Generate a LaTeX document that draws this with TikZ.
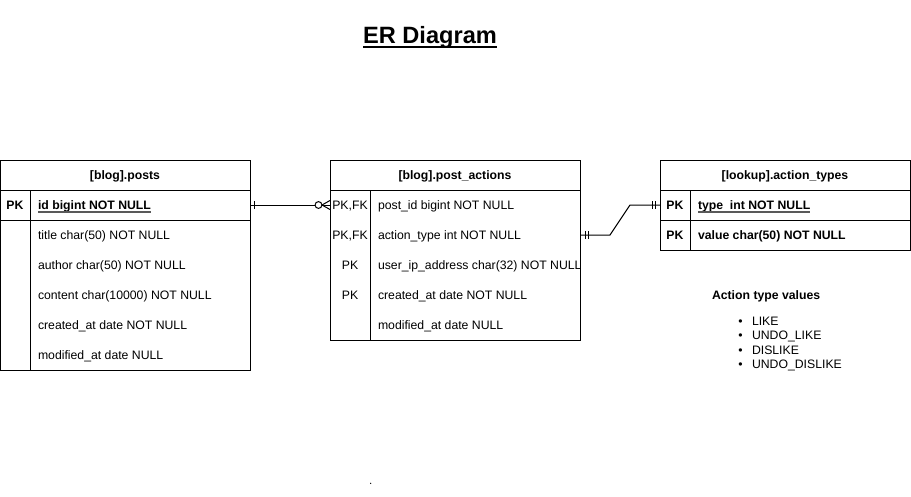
\documentclass[tikz,border=0pt]{standalone}
\usepackage{fontspec}
\setmainfont{Liberation Sans}
\usetikzlibrary{calc}
\begin{document}
\begin{tikzpicture}[x=1pt,y=-1pt,line width=1pt,
  every node/.style={inner sep=0pt,outer sep=0pt},
  txt/.style={font=\fontsize{12.25}{14}\selectfont},
  fld/.style={txt,anchor=base west},
  bfld/.style={txt,anchor=base west,font=\fontsize{12.25}{14}\selectfont\bfseries},
  keycol/.style={txt,anchor=base},
  bkey/.style={txt,anchor=base,font=\fontsize{12.25}{14}\selectfont\bfseries},
  hdr/.style={anchor=base,font=\fontsize{12.25}{14}\selectfont\bfseries},
  uline/.style={line width=1.3pt,black!65},
  rel/.style={line width=1pt}]
\useasboundingbox (0,0) rectangle (911,496);

% title
\node[anchor=base,font=\fontsize{23.6}{28}\selectfont\bfseries] (title) at (430,43) {ER Diagram};
\draw[line width=1.8pt] ($(title.base west)+(0,4)$) -- ($(title.base east)+(0,4)$);

% ---------- [blog].posts ----------
\draw (0.5,160) rectangle (250,370);
\draw (0.5,190) -- (250,190);
\draw (0.5,220) -- (250,220);
\draw (30,190) -- (30,370);
\node[hdr] (postsHdr) at (125,179.5) {[blog].posts};
\node[bkey] (postsPK) at (15,209.5) {PK};
\node[bfld] (postsId) at (38,209.5) {id bigint NOT NULL};
\draw[uline] ($(postsId.base west)+(0,2.5)$) -- ($(postsId.base east)+(0,2.5)$);
\node[fld] (postsTitle) at (38,239.5) {title char(50) NOT NULL};
\node[fld] (postsAuthor) at (38,269.5) {author char(50) NOT NULL};
\node[fld] (postsContent) at (38,299.5) {content char(10000) NOT NULL};
\node[fld] (postsCreated) at (38,329.5) {created\_at date NOT NULL};
\node[fld] (postsModified) at (38,359.5) {modified\_at date NULL};

% ---------- [blog].post_actions ----------
\draw (330,160) rectangle (580,340);
\draw (330,190) -- (580,190);
\draw (370,190) -- (370,340);
\node[hdr] (paHdr) at (455,179.5) {[blog].post\_actions};
\node[keycol] (paK1) at (350,209.5) {PK,FK};
\node[keycol] (paK2) at (350,239.5) {PK,FK};
\node[keycol] (paK3) at (350,269.5) {PK};
\node[keycol] (paK4) at (350,299.5) {PK};
\node[fld] (paPostId) at (378,209.5) {post\_id bigint NOT NULL};
\node[fld] (paActionType) at (378,239.5) {action\_type int NOT NULL};
\begin{scope}
  \clip (371,250) rectangle (579.5,280);
  \node[fld] (paIp) at (378,269.5) {user\_ip\_address char(32) NOT NULL};
\end{scope}
\node[fld] (paCreated) at (378,299.5) {created\_at date NOT NULL};
\node[fld] (paModified) at (378,329.5) {modified\_at date NULL};

% ---------- [lookup].action_types ----------
\draw (660,160) rectangle (910,250);
\draw (660,190) -- (910,190);
\draw (660,220) -- (910,220);
\draw (690,190) -- (690,250);
\node[hdr] (atHdr) at (785,179.5) {[lookup].action\_types};
\node[bkey] (atK1) at (675,209.5) {PK};
\node[bkey] (atK2) at (675,239.5) {PK};
\node[bfld] (atType) at (698,209.5) {type\ \ int NOT NULL};
\draw[uline] ($(atType.base west)+(0,2.5)$) -- ($(atType.base east)+(0,2.5)$);
\node[bfld] (atValue) at (698,239.5) {value char(50) NOT NULL};

% ---------- connector end points ----------
\coordinate (postsIdE) at (250,205);
\coordinate (paPostW) at (330,205);
\coordinate (paTypeE) at (580,235);
\coordinate (atTypeW) at (660,205);

% posts.id  |----o<  post_actions.post_id
\draw[rel] (postsIdE) -- (paPostW);
\draw[rel] ($(postsIdE)+(4,-4)$) -- ($(postsIdE)+(4,4)$);
\draw[rel] ($(paPostW)+(-8,0)$) -- ($(paPostW)+(0,-4.5)$);
\draw[rel] ($(paPostW)+(-8,0)$) -- ($(paPostW)+(0,4.5)$);
\draw[rel,fill=white] ($(paPostW)+(-11.5,0)$) circle (3.4);

% post_actions.action_type ||----|| action_types.type
\draw[rel] (paTypeE) -- ($(paTypeE)+(30,0)$) -- ($(atTypeW)+(-30,0)$) -- (atTypeW);
\draw[rel] ($(paTypeE)+(5,-4)$) -- ($(paTypeE)+(5,4)$);
\draw[rel] ($(paTypeE)+(8,-4)$) -- ($(paTypeE)+(8,4)$);
\draw[rel] ($(atTypeW)+(-8,-4)$) -- ($(atTypeW)+(-8,4)$);
\draw[rel] ($(atTypeW)+(-5,-4)$) -- ($(atTypeW)+(-5,4)$);

% ---------- notes ----------
\node[bfld] (notesTitle) at (712,299.5) {Action type values};
\foreach \t [count=\i] in {LIKE,UNDO\_LIKE,DISLIKE,UNDO\_DISLIKE} {
  \node[txt,anchor=base] (bul\i) at (740.5,{320.5+14.5*(\i-1)+4.5}) {•};
  \node[fld] (val\i) at (752,{320.5+14.5*(\i-1)+4.5}) {\t};
}

% stray dot
\fill (370.7,483.3) circle (0.7);
\end{tikzpicture}
\end{document}
